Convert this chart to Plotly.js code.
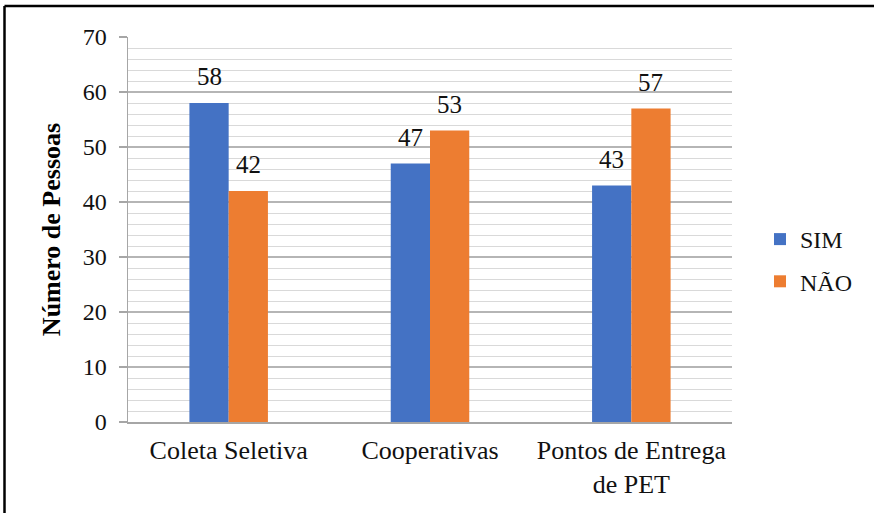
<!DOCTYPE html>
<html>
<head>
<meta charset="utf-8">
<script src="https://cdn.plot.ly/plotly-3.0.1.min.js"></script>
<style>
  html, body { margin: 0; padding: 0; background: #fff; }
  #chart { width: 874px; height: 513px; }
</style>
</head>
<body>
<div id="chart"></div>
<script>
// Survey answers per recycling initiative
const categories = ['Coleta Seletiva', 'Cooperativas', 'Pontos de Entrega<br>de PET'];
const simValues = [58, 47, 43];
const naoValues = [42, 53, 57];
const seriesNames = ['SIM', 'NÃO'];
const yTicks = [0, 10, 20, 30, 40, 50, 60, 70];

const BLUE = '#4472C4';
const ORANGE = '#ED7D31';
const FONT = 'Liberation Serif';
const TEXT = '#111111';

const M = { l: 128, r: 142, t: 37, b: 91 };
const plotW = 874 - M.l - M.r;
const plotH = 513 - M.t - M.b;
const BARGAP = 0.61;
const halfBar = (plotW / categories.length) * (1 - BARGAP) / 4;

const traces = [
  { type: 'bar', name: seriesNames[0], x: categories, y: simValues,
    marker: { color: BLUE }, legendgroup: 'a', hoverinfo: 'skip' },
  { type: 'bar', name: seriesNames[1], x: categories, y: naoValues,
    marker: { color: ORANGE }, legendgroup: 'b', hoverinfo: 'skip' }
];

// value labels above each bar
const annotations = [];
[simValues, naoValues].forEach((vals, s) => {
  vals.forEach((v, i) => {
    annotations.push({
      xref: 'x', yref: 'y', x: categories[i], y: v,
      text: String(v), showarrow: false,
      yanchor: 'bottom', xanchor: 'center',
      xshift: (s === 0 ? -1 : 1) * halfBar, yshift: 11,
      font: { family: FONT, size: 25, color: TEXT }
    });
  });
});

// page frame (top and left edges)
const px2x = p => (p - M.l) / plotW;
const py2y = p => (513 - M.b - p) / plotH;
const shapes = [
  { type: 'line', xref: 'paper', yref: 'paper', x0: px2x(4.5), x1: px2x(880), y0: py2y(6), y1: py2y(6),
    line: { color: '#000', width: 2.5 } },
  { type: 'line', xref: 'paper', yref: 'paper', x0: px2x(4.5), x1: px2x(4.5), y0: py2y(6), y1: py2y(520),
    line: { color: '#000', width: 2.5 } }
];

const layout = {
  width: 874, height: 513,
  margin: M,
  font: { family: FONT, color: TEXT },
  paper_bgcolor: '#fff', plot_bgcolor: '#fff',
  barmode: 'group', bargap: BARGAP, bargroupgap: 0,
  showlegend: true,
  legend: {
    x: px2x(760), y: py2y(217), xanchor: 'left', yanchor: 'top',
    font: { family: FONT, size: 24, color: TEXT },
    traceorder: 'grouped', tracegroupgap: 8,
    bgcolor: 'rgba(0,0,0,0)'
  },
  xaxis: {
    type: 'category',
    showgrid: false, zeroline: false,
    showline: true, linecolor: '#a6a6a6', linewidth: 1.5,
    ticks: '',
    tickfont: { family: FONT, size: 26, color: TEXT },
    ticklabelstandoff: 4
  },
  yaxis: {
    range: [0, 70],
    tickvals: yTicks,
    showgrid: true, gridcolor: '#b5b5b5', gridwidth: 1.3,
    minor: { dtick: 2, showgrid: true, gridcolor: '#d9d9d9', gridwidth: 1, ticks: '' },
    zeroline: false,
    showline: true, linecolor: '#a6a6a6', linewidth: 1.5,
    ticks: 'outside', ticklen: 8, tickcolor: '#a6a6a6', tickwidth: 1.5,
    tickfont: { family: FONT, size: 24, color: TEXT },
    ticklabelstandoff: 7,
    title: { text: '<b>Número de Pessoas</b>', standoff: 14,
      font: { family: FONT, size: 26, color: '#000' } }
  },
  annotations: annotations,
  shapes: shapes
};

Plotly.newPlot('chart', traces, layout, { staticPlot: true });
</script>
</body>
</html>
